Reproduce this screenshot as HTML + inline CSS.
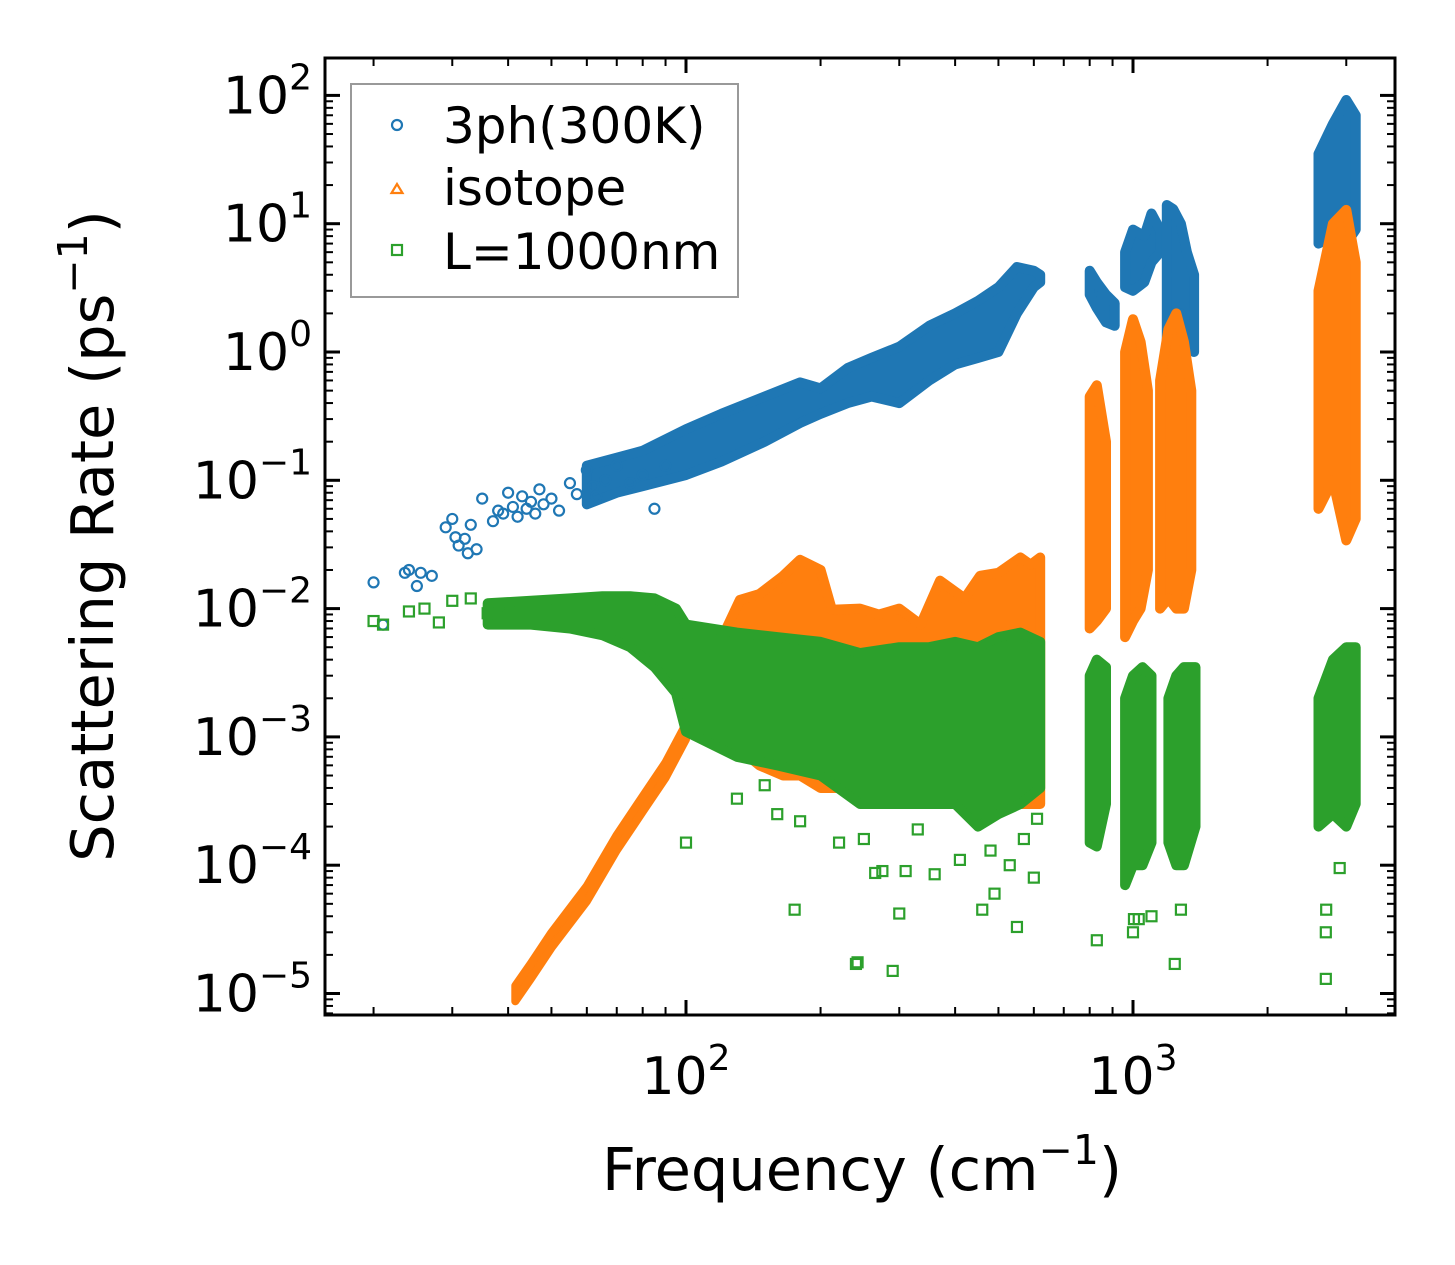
<!DOCTYPE html>
<html><head><meta charset="utf-8"><style>
html,body{margin:0;padding:0;background:#fff;}
svg{display:block;font-family:"DejaVu Sans","Liberation Sans",sans-serif;}
</style></head><body>
<svg id="chart" width="1455" height="1265" viewBox="0 0 1455 1265">
<g id="plot"></g>
<g id="axes"></g>
<text x="862" y="1190" text-anchor="middle" font-size="59">Frequency (cm<tspan font-size="41" dy="-26">−1</tspan><tspan dy="26">)</tspan></text>
<text transform="translate(113,536) rotate(-90)" text-anchor="middle" font-size="59">Scattering Rate (ps<tspan font-size="41" dy="-26">−1</tspan><tspan dy="26">)</tspan></text>
<g>
<rect x="351" y="84" width="387" height="213" fill="#fff" fill-opacity="0.8" stroke="#999" stroke-width="2"/>
<circle cx="397" cy="125" r="5" fill="none" stroke="#1f77b4" stroke-width="2.2"/>
<text x="443" y="143" font-size="50">3ph(300K)</text>
<polygon points="397,184 391.5,193 402.5,193" fill="none" stroke="#ff7f0e" stroke-width="2.2"/>
<text x="443" y="205" font-size="50">isotope</text>
<rect x="392" y="245" width="10" height="10" fill="none" stroke="#2ca02c" stroke-width="2.2"/>
<text x="443" y="269" font-size="50">L=1000nm</text>
</g>
</svg>
<script>
// ---- data ----
const blueScatterF = [20,21,23.5,24,25,25.5,27,29,30,30.5,31,32,32.5,33,34,35,37,38,39,40,41,42,43,44,45,46,47,48,50,52,55,57,60,62,63,66,70,75,80,85,90];
const blueScatterR = [0.016,0.0075,0.019,0.020,0.015,0.019,0.018,0.043,0.050,0.036,0.031,0.035,0.027,0.045,0.029,0.072,0.048,0.058,0.055,0.080,0.062,0.052,0.075,0.060,0.068,0.055,0.085,0.065,0.072,0.058,0.095,0.078,0.12,0.09,0.075,0.10,0.13,0.095,0.11,0.06,0.13];
const blueBands = [
 {f:[60,70,80,100,120,150,180,200,230,260,300,350,400,450,500,550,600,620],
  hi:[0.13,0.15,0.17,0.25,0.33,0.45,0.58,0.52,0.75,0.9,1.1,1.6,2.0,2.5,3.2,4.6,4.3,4.0],
  lo:[0.065,0.08,0.09,0.11,0.14,0.2,0.28,0.33,0.4,0.45,0.4,0.6,0.8,0.9,1.0,2.0,3.2,3.5]},
 {f:[800,830,870,910],hi:[4.3,3.5,2.8,2.4],lo:[2.8,2.2,1.7,1.6]},
 {f:[960,1000,1060,1100,1150],hi:[6,9,8,12,9],lo:[3.2,3.0,3.5,5,6]},
 {f:[1190,1230,1280,1320,1370],hi:[14,13,10,6,4],lo:[1.0,1.2,2,1.5,1.0]},
 {f:[2600,2800,3000,3150],hi:[35,60,92,70],lo:[7,8,7,9]}
];
const orangeLineF = [41.5,45,50,60,70,80,90,100];
const orangeLineR = [1.0e-5,1.5e-5,2.6e-5,6e-5,1.5e-4,3e-4,5.5e-4,1.1e-3];
const orangeBands = [
 {f:[100,132,146,165,180,200,212,245,270,300,335,370,420,455,500,560,590,620],
  hi:[0.0015,0.0117,0.013,0.018,0.024,0.02,0.0098,0.01,0.009,0.01,0.0075,0.0165,0.012,0.018,0.019,0.025,0.022,0.025],
  lo:[0.0011,0.0008,0.0006,0.0005,0.0005,0.0004,0.0004,0.0004,0.0004,0.0004,0.0003,0.0003,0.0003,0.0003,0.0003,0.0003,0.0003,0.0003]},
 {f:[800,830,870],hi:[0.45,0.55,0.2],lo:[0.007,0.008,0.01]},
 {f:[960,1000,1040,1080],hi:[1.0,1.8,1.2,0.5],lo:[0.006,0.008,0.01,0.02]},
 {f:[1150,1200,1250,1300,1350],hi:[0.6,1.5,2.0,1.2,0.5],lo:[0.01,0.012,0.01,0.01,0.02]},
 {f:[2600,2800,3000,3150],hi:[3,10,12.8,5],lo:[0.06,0.1,0.034,0.05]}
];
const greenScatterF = [20,21,24,26,28,30,33,36,40,100,175,240,242,290,300,265,275,360,310,460,490,550,600,530,830,1000,1005,1030,1100,1240,1280,2700,2700,2705,2900,130,150,160,180,220,250,330,410,480,570,610];
const greenScatterR = [0.008,0.0075,0.0095,0.01,0.0078,0.0115,0.012,0.0092,0.0105,1.5e-4,4.5e-5,1.7e-5,1.75e-5,1.5e-5,4.2e-5,8.7e-5,9e-5,8.5e-5,9e-5,4.5e-5,6e-5,3.3e-5,8e-5,1.0e-4,2.6e-5,3e-5,3.8e-5,3.8e-5,4e-5,1.7e-5,4.5e-5,1.3e-5,3e-5,4.5e-5,9.5e-5,3.3e-4,4.2e-4,2.5e-4,2.2e-4,1.5e-4,1.6e-4,1.9e-4,1.1e-4,1.3e-4,1.6e-4,2.3e-4];
const greenBands = [
 {f:[36,45,55,65,75,85,95,100,130,160,200,245,300,350,400,450,500,560,620],
  hi:[0.011,0.0115,0.012,0.0125,0.0125,0.012,0.01,0.0075,0.0065,0.006,0.0055,0.0045,0.005,0.005,0.0055,0.005,0.006,0.0065,0.0055],
  lo:[0.0075,0.0075,0.007,0.0062,0.005,0.0035,0.0022,0.0011,0.0007,0.0006,0.0005,0.0003,0.0003,0.0003,0.0003,0.0002,0.00025,0.0003,0.0004]},
 {f:[800,830,870],hi:[0.003,0.004,0.0035],lo:[0.00015,0.00014,0.0003]},
 {f:[960,1000,1050,1100],hi:[0.002,0.003,0.0035,0.003],lo:[0.00007,0.0001,0.0001,0.00015]},
 {f:[1200,1250,1300,1380],hi:[0.002,0.003,0.0035,0.0035],lo:[0.00015,0.0001,0.0001,0.0002]},
 {f:[2600,2800,3000,3150],hi:[0.002,0.004,0.005,0.005],lo:[0.0002,0.00025,0.0002,0.0003]}
];
const xTickExp = [2,3];
const yTickExp = [2,1,0,-1,-2,-3,-4,-5];

// ---- axes ----
const L=325,R=1395,T=58,B=1015;
function X(f){return 686+447*(Math.log10(f)-2);}
function Y(r){return 352-128.3*Math.log10(r);}
const NS='http://www.w3.org/2000/svg';
function el(tag,attrs,parent){const e=document.createElementNS(NS,tag);for(const k in attrs)e.setAttribute(k,attrs[k]);parent.appendChild(e);return e;}
const plot=document.getElementById('plot'), axes=document.getElementById('axes');
const C={b:'#1f77b4',o:'#ff7f0e',g:'#2ca02c'};

function drawBands(bands,color,name){
  bands.forEach((b,i)=>{
    let pts=[];
    for(let j=0;j<b.f.length;j++)pts.push(X(b.f[j]).toFixed(1)+','+Y(b.hi[j]).toFixed(1));
    for(let j=b.f.length-1;j>=0;j--)pts.push(X(b.f[j]).toFixed(1)+','+Y(b.lo[j]).toFixed(1));
    const p=el('polygon',{points:pts.join(' '),fill:color,stroke:color,'stroke-width':10,'stroke-linejoin':'round'},plot);
    
    
  });
}
function circle(f,r,name){const c=el('circle',{cx:X(f),cy:Y(r),r:5,fill:'none',stroke:C.b,'stroke-width':2.2},plot);
  
  }
function square(f,r,name){const s=el('rect',{x:X(f)-5,y:Y(r)-5,width:10,height:10,fill:'none',stroke:C.g,'stroke-width':2.2},plot);
  
  }

drawBands(blueBands,C.b,'3ph');
blueScatterF.forEach((f,i)=>circle(f,blueScatterR[i],'3ph-point'));
drawBands(orangeBands,C.o,'isotope');
{let pts=[];
 orangeLineF.forEach((f,i)=>pts.push(X(f).toFixed(1)+','+Y(orangeLineR[i]*1.15).toFixed(1)));
 for(let i=orangeLineF.length-1;i>=0;i--)pts.push(X(orangeLineF[i]).toFixed(1)+','+Y(orangeLineR[i]/1.15).toFixed(1));
 const p=el('polygon',{points:pts.join(' '),fill:C.o,stroke:C.o,'stroke-width':8,'stroke-linejoin':'round'},plot);
 
 }
drawBands(greenBands,C.g,'boundary');
greenScatterF.forEach((f,i)=>square(f,greenScatterR[i],'boundary-point'));

const fr=el('rect',{x:L,y:T,width:R-L,height:B-T,fill:'none',stroke:'#000','stroke-width':3},axes);


for(let e=1;e<=3;e++)for(let m=1;m<10;m++){
  const f=m*Math.pow(10,e), x=X(f); if(x<L||x>R)continue;
  const len=m===1?15:8, w=m===1?3:2;
  el('line',{x1:x,y1:B,x2:x,y2:B-len,stroke:'#000','stroke-width':w},axes);
  el('line',{x1:x,y1:T,x2:x,y2:T+len,stroke:'#000','stroke-width':w},axes);
}
for(let e=-6;e<=2;e++)for(let m=1;m<10;m++){
  const r=m*Math.pow(10,e), y=Y(r); if(y<T||y>B)continue;
  const len=m===1?15:8, w=m===1?3:2;
  el('line',{x1:L,y1:y,x2:L+len,y2:y,stroke:'#000','stroke-width':w},axes);
  el('line',{x1:R,y1:y,x2:R-len,y2:y,stroke:'#000','stroke-width':w},axes);
}
xTickExp.forEach(e=>{
  const t=el('text',{x:X(Math.pow(10,e)),y:1094,'text-anchor':'middle','font-size':52},axes);
  
  
  t.innerHTML='10<tspan font-size="36" dy="-24">'+e+'</tspan>';
});
yTickExp.forEach(e=>{
  const t=el('text',{x:312,y:Y(Math.pow(10,e))+18,'text-anchor':'end','font-size':52},axes);
  
  
  t.innerHTML='10<tspan font-size="36" dy="-24">'+(e<0?'\u2212'+(-e):e)+'</tspan>';
});
</script>
</body></html>
